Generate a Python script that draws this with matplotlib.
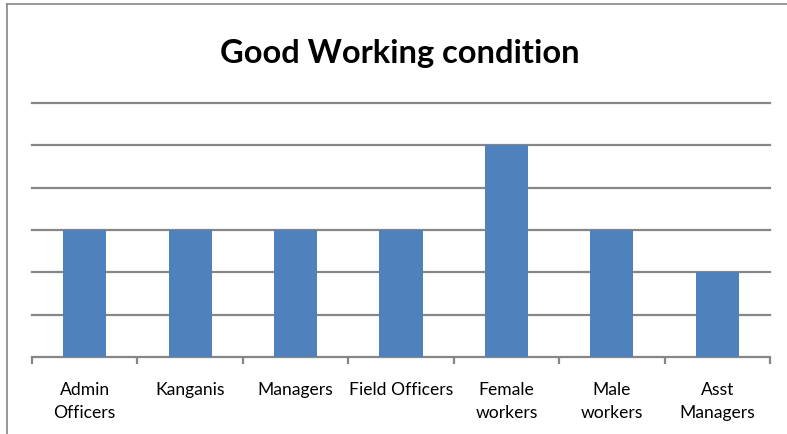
import matplotlib
matplotlib.use("Agg")
import matplotlib.pyplot as plt
from matplotlib.lines import Line2D

categories = ["Admin\nOfficers", "Kanganis", "Managers", "Field Officers",
              "Female\nworkers", "Male\nworkers", "Asst\nManagers"]
values = [3, 3, 3, 3, 5, 3, 2]
title = "Good Working condition"

plt.rcParams['font.family'] = ['Lato', 'DejaVu Sans']

fig = plt.figure(figsize=(7.87, 4.35), dpi=100)
ax = fig.add_axes([32/787, 1-358/435, (770-32)/787, (358-104)/435])

x = list(range(len(categories)))
ax.bar(x, values, width=0.41, color="#4F81BD", zorder=3)
ax.set_xlim(-0.5, len(categories)-0.5)
ax.set_ylim(0, 6)
ax.set_yticks([1, 2, 3, 4, 5, 6])
ax.yaxis.grid(True, color="#868686", linewidth=1.6, zorder=0)
for gl in ax.get_ygridlines():
    gl.set_clip_on(False)
ax.tick_params(axis='y', left=False, labelleft=False)
for s in ["left", "right", "top"]:
    ax.spines[s].set_visible(False)
ax.spines["bottom"].set_color("#868686")
ax.spines["bottom"].set_linewidth(1.6)

ax.set_xticks([i - 0.5 for i in range(len(categories)+1)], minor=False)
ax.set_xticklabels([])
ax.tick_params(axis='x', which='major', length=5, width=1.6, color="#868686")
ax.set_xticks(x, minor=True)
ax.set_xticklabels(categories, minor=True, fontsize=12.6, linespacing=1.55)
ax.tick_params(axis='x', which='minor', length=0, pad=17)

fig.text(400/787, 1-53/435, title, ha='center', va='center',
         fontsize=23.5, fontweight='bold')

# chart border (partially cropped)
fig.add_artist(Line2D([7/787, 7/787], [0, 1-5/435], transform=fig.transFigure,
                      color="#868686", linewidth=1.2))
fig.add_artist(Line2D([7/787, 1], [1-5/435, 1-5/435], transform=fig.transFigure,
                      color="#868686", linewidth=1.2))

fig.savefig("out.png", dpi=100)
